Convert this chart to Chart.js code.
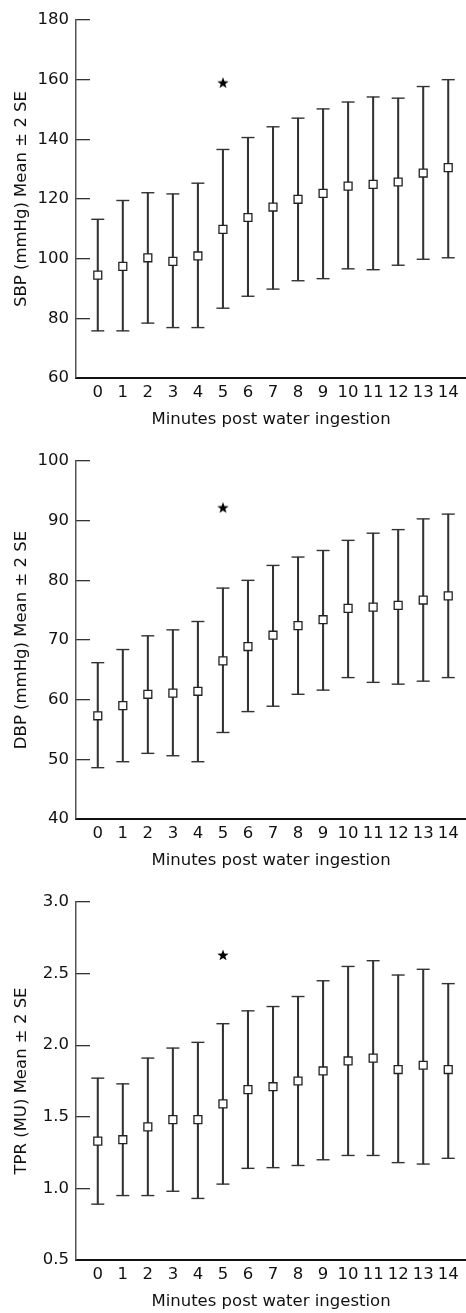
<!DOCTYPE html>
<html>
<head>
<meta charset="utf-8">
<script src="https://cdn.jsdelivr.net/npm/chart.js@4.4.1/dist/chart.umd.min.js"></script>
<style>
  html, body { margin: 0; padding: 0; background: #fff; }
  body { width: 466px; height: 1313px; position: relative; overflow: hidden; }
  .panel { position: absolute; left: 0; width: 466px; height: 441px; }
</style>
</head>
<body>
<div class="panel" style="top:0px"><canvas id="sbp" width="466" height="441"></canvas></div>
<div class="panel" style="top:441px"><canvas id="dbp" width="466" height="441"></canvas></div>
<div class="panel" style="top:882px"><canvas id="tpr" width="466" height="441"></canvas></div>
<script>
// Minutes after the water drink (x axis)
const minutes = [0, 1, 2, 3, 4, 5, 6, 7, 8, 9, 10, 11, 12, 13, 14];
const starMinute = 5;

// Systolic BP
const sbpMean  = [94.5, 97.4, 100.3, 99.1, 100.9, 109.8, 113.8, 117.3, 119.9, 121.9, 124.3, 124.9, 125.7, 128.7, 130.5];
const sbpUpper = [113.2, 119.5, 122.1, 121.7, 125.3, 136.6, 140.6, 144.2, 147.1, 150.2, 152.5, 154.2, 153.8, 157.7, 160.0];
const sbpLower = [75.8, 75.8, 78.4, 76.9, 76.9, 83.4, 87.4, 89.8, 92.6, 93.3, 96.6, 96.3, 97.8, 99.8, 100.3];
const sbpStar = 159;
const sbpTicks = [60, 80, 100, 120, 140, 160, 180];

// Diastolic BP
const dbpMean  = [57.3, 59.0, 60.9, 61.1, 61.4, 66.5, 68.9, 70.8, 72.4, 73.4, 75.3, 75.5, 75.8, 76.7, 77.4];
const dbpUpper = [66.2, 68.4, 70.7, 71.7, 73.1, 78.7, 80.0, 82.5, 83.9, 85.0, 86.7, 87.9, 88.5, 90.3, 91.1];
const dbpLower = [48.6, 49.6, 51.0, 50.6, 49.6, 54.5, 58.0, 58.9, 60.9, 61.6, 63.7, 62.9, 62.6, 63.1, 63.7];
const dbpStar = 92.2;
const dbpTicks = [40, 50, 60, 70, 80, 90, 100];

// Total peripheral resistance
const tprMean  = [1.33, 1.34, 1.43, 1.48, 1.48, 1.59, 1.69, 1.71, 1.75, 1.82, 1.89, 1.91, 1.83, 1.86, 1.83];
const tprUpper = [1.77, 1.73, 1.91, 1.98, 2.02, 2.15, 2.24, 2.27, 2.34, 2.45, 2.55, 2.59, 2.49, 2.53, 2.43];
const tprLower = [0.89, 0.95, 0.95, 0.98, 0.93, 1.03, 1.14, 1.145, 1.16, 1.20, 1.23, 1.23, 1.18, 1.17, 1.21];
const tprStar = 2.63;
const tprTicks = [0.5, 1.0, 1.5, 2.0, 2.5, 3.0];

Chart.defaults.font.family = '"DejaVu Sans", sans-serif';
Chart.defaults.color = "#111";

const lineColor = "#333";
const fontSize = 16.5;

// filled five-point star used as the point style for the significance mark
function makeStar(size) {
  const c = document.createElement("canvas");
  c.width = size;
  c.height = size;
  const g = c.getContext("2d");
  g.fillStyle = "#000";
  g.beginPath();
  for (let i = 0; i < 10; i++) {
    const r = i % 2 === 0 ? size / 2 : size / 5;
    const a = -Math.PI / 2 + (i * Math.PI) / 5;
    const px = size / 2 + r * Math.cos(a);
    const py = size / 2 + 0.5 + r * Math.sin(a);
    if (i === 0) g.moveTo(px, py);
    else g.lineTo(px, py);
  }
  g.closePath();
  g.fill();
  return c;
}
const starImg = makeStar(12);

function pts(ys) {
  return minutes.map((m, i) => ({ x: m, y: ys[i] }));
}

function makeChart(id, mean, upper, lower, star, yTicks, yTitle, decimals) {
  const ctx = document.getElementById(id).getContext("2d");
  return new Chart(ctx, {
    type: "bar",
    data: {
      datasets: [
        {
          type: "scatter",
          data: pts(mean),
          pointStyle: "rect",
          pointRadius: 5.6,
          backgroundColor: "#fff",
          borderColor: "#222",
          borderWidth: 1.3,
          order: 0,
        },
        {
          type: "scatter",
          data: [{ x: starMinute, y: star }],
          pointStyle: starImg,
          order: 0,
        },
        {
          type: "scatter",
          data: pts(upper).concat(pts(lower)),
          pointStyle: "line",
          pointRadius: 6.5,
          borderColor: lineColor,
          borderWidth: 1.4,
          order: 1,
        },
        {
          type: "bar",
          data: minutes.map((m, i) => ({ x: m, y: [lower[i], upper[i]] })),
          backgroundColor: lineColor,
          borderWidth: 0,
          barThickness: 1.4,
          order: 2,
        },
      ],
    },
    options: {
      responsive: false,
      animation: false,
      events: [],
      layout: { autoPadding: false, padding: { top: 20, left: 0, right: 0, bottom: 0 } },
      plugins: {
        legend: { display: false },
        tooltip: { enabled: false },
      },
      scales: {
        x: {
          type: "linear",
          offset: false,
          min: -0.87,
          max: 14.71,
          afterBuildTicks: function (s) {
            s.ticks = minutes.map((v) => ({ value: v }));
          },
          afterFit: function (s) {
            s.height = 63;
            s.paddingLeft = 0;
            s.paddingRight = 0;
          },
          grid: { display: false, drawTicks: false },
          border: { display: true, color: "#111", width: 2 },
          ticks: {
            font: { size: fontSize },
            padding: 5,
            maxRotation: 0,
            autoSkip: false,
          },
          title: {
            display: true,
            text: "Minutes post water ingestion",
            font: { size: fontSize },
            padding: { top: 0, bottom: 11 },
          },
        },
        y: {
          min: yTicks[0],
          max: yTicks[yTicks.length - 1],
          afterBuildTicks: function (s) {
            s.ticks = yTicks.map((v) => ({ value: v }));
          },
          afterFit: function (s) {
            s.width = 76;
            s.paddingTop = 0;
            s.paddingBottom = 0;
          },
          grid: {
            display: true,
            drawOnChartArea: false,
            drawTicks: true,
            tickLength: -14,
            color: lineColor,
            lineWidth: 1.3,
          },
          border: { display: true, color: "#555", width: 1.5 },
          ticks: {
            font: { size: fontSize },
            padding: 21,
            callback: function (v) {
              return Number(v).toFixed(decimals);
            },
          },
          title: {
            display: true,
            text: yTitle,
            font: { size: fontSize },
            padding: { top: 12, bottom: 0 },
          },
        },
      },
    },
  });
}

makeChart("sbp", sbpMean, sbpUpper, sbpLower, sbpStar, sbpTicks, "SBP (mmHg) Mean \u00b1 2 SE", 0);
makeChart("dbp", dbpMean, dbpUpper, dbpLower, dbpStar, dbpTicks, "DBP (mmHg) Mean \u00b1 2 SE", 0);
makeChart("tpr", tprMean, tprUpper, tprLower, tprStar, tprTicks, "TPR (MU) Mean \u00b1 2 SE", 1);
</script>
</body>
</html>
